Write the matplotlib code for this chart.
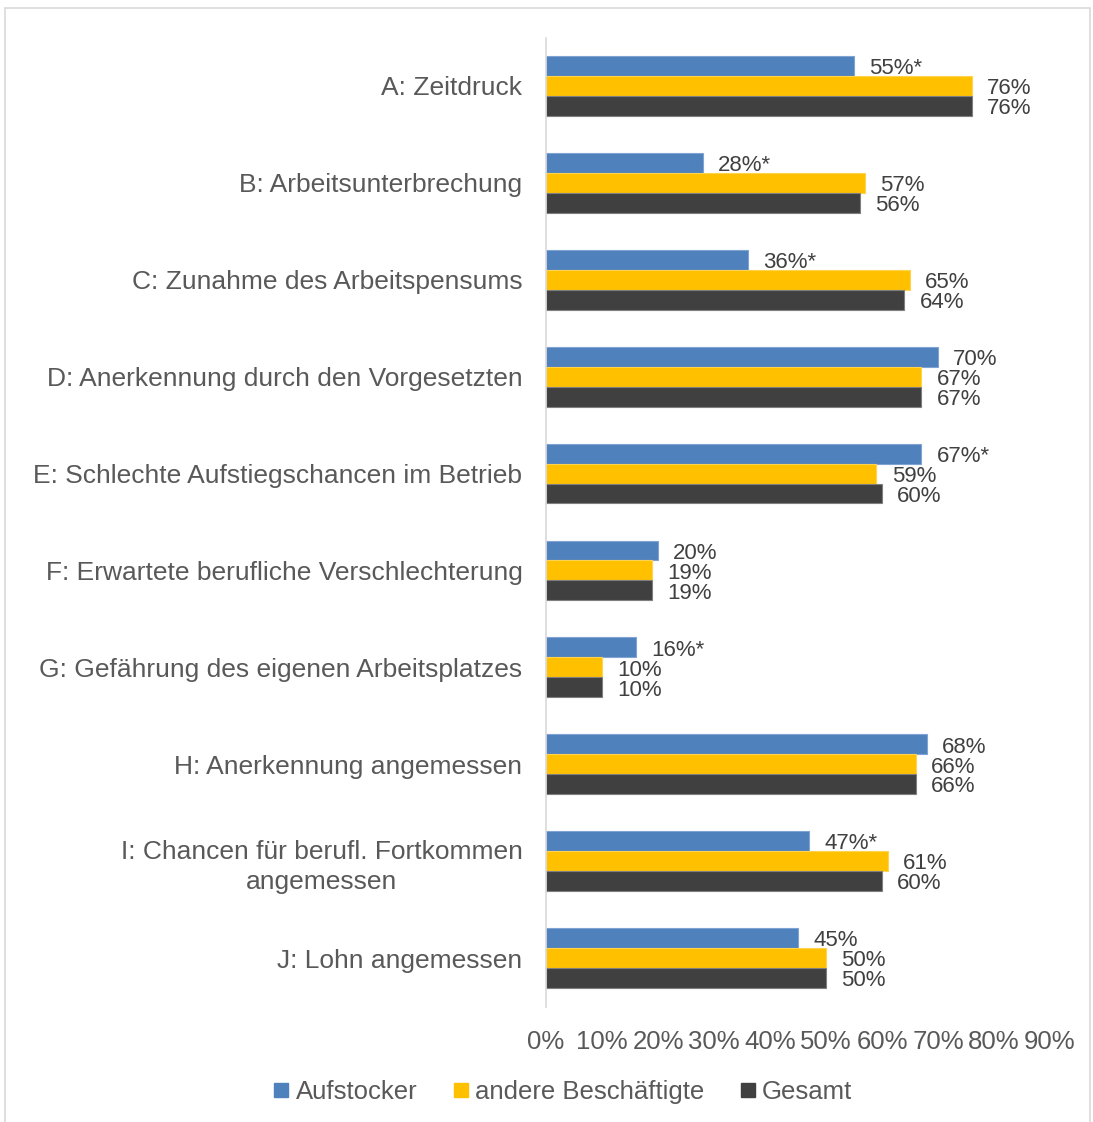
import numpy as np
import matplotlib
matplotlib.use("Agg")
import matplotlib.pyplot as plt
from matplotlib.patches import Rectangle
from matplotlib.lines import Line2D

plt.rcParams['font.family'] = ['Liberation Sans', 'DejaVu Sans']

# data
categories = [
    "A: Zeitdruck",
    "B: Arbeitsunterbrechung",
    "C: Zunahme des Arbeitspensums",
    "D: Anerkennung durch den Vorgesetzten",
    "E: Schlechte Aufstiegschancen im Betrieb",
    "F: Erwartete berufliche Verschlechterung",
    "G: Gefährung des eigenen Arbeitsplatzes",
    "H: Anerkennung angemessen",
    "I: Chancen für berufl. Fortkommen\nangemessen",
    "J: Lohn angemessen",
]
aufstocker = [55, 28, 36, 70, 67, 20, 16, 68, 47, 45]
andere = [76, 57, 65, 67, 59, 19, 10, 66, 61, 50]
gesamt = [76, 56, 64, 67, 60, 19, 10, 66, 60, 50]
signif = [True, True, True, False, True, False, True, False, True, False]
series_names = ["Aufstocker", "andere Beschäftigte", "Gesamt"]
colors = ["#4F81BD", "#FFC000", "#404040"]
edges = ["#7FA3D3", "#FFD34D", "#7F7F7F"]
text_col = "#595959"
value_col = "#404040"

W, H = 1093, 1122
fig = plt.figure(figsize=(W / 100, H / 100), dpi=100)

# outer chart frame
fig.patches.append(Rectangle((5 / W, -0.01), 1085 / W, 1 - 8 / H + 0.01,
                             transform=fig.transFigure, fill=False,
                             edgecolor="#D9D9D9", linewidth=1.2))

ax = fig.add_axes([546 / W, 1 - 1006.5 / H, (1050 - 546) / W, (1006.5 - 37.5) / H])

y = np.arange(len(categories))
bh = 0.206
series = [aufstocker, andere, gesamt]
for i, (vals, c, ec, name) in enumerate(zip(series, colors, edges, series_names)):
    pos = y + (i - 1) * bh
    ax.barh(pos, vals, height=bh, color=c, edgecolor=ec, linewidth=0.8, label=name)
    for j, v in enumerate(vals):
        lab = f"{v}%" + ("*" if (i == 0 and signif[j]) else "")
        ax.annotate(lab, (v, pos[j]), xytext=(11, -2), textcoords="offset points",
                    va="center", ha="left", fontsize=16, color=value_col)

ax.set_ylim(len(categories) - 0.5, -0.5)
ax.set_xlim(0, 90)
ax.set_xticks(np.arange(0, 91, 10))
ax.set_xticklabels([f"{t}%" for t in range(0, 91, 10)], fontsize=18.5, color=text_col)
ax.set_yticks(y)
ax.set_yticklabels(categories, fontsize=19, color=text_col, multialignment="center",
                   linespacing=1.35)
ax.tick_params(axis="y", length=0, pad=17)
ax.tick_params(axis="x", length=0, pad=17)
for s in ["top", "right", "bottom"]:
    ax.spines[s].set_visible(False)
ax.spines["left"].set_color("#D9D9D9")
ax.spines["left"].set_linewidth(1.2)

handles = [Line2D([], [], marker="s", linestyle="none", markersize=9.5,
                  markerfacecolor=c, markeredgecolor=c) for c in colors]
fig.legend(handles, series_names, loc="center", bbox_to_anchor=(563 / W, 1 - 1092 / H),
           ncol=3, frameon=False, fontsize=18.5, handlelength=0.6, handletextpad=0.25,
           columnspacing=1.4, labelcolor=text_col)

fig.savefig("out.png", dpi=100)
